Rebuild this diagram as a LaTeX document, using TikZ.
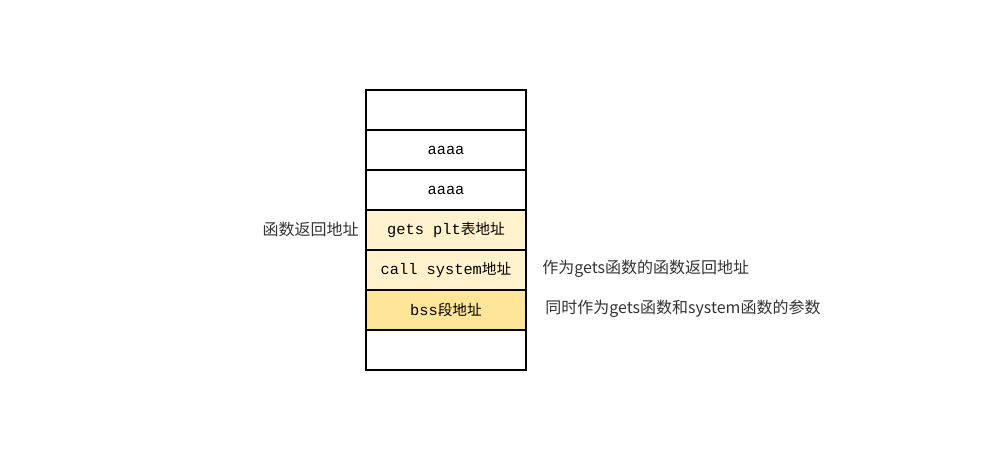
\documentclass[tikz,border=0pt]{standalone}
\usepackage{fontspec}
\setmainfont{Liberation Sans}
\newfontfamily\cjk{Noto Sans CJK SC}
\newfontfamily\monofnt{Liberation Mono}
\newcommand{\celltxt}[2]{{\monofnt\fontsize{11.5}{14}\selectfont #1}{\cjk\fontsize{11}{13}\selectfont #2}}
\definecolor{lightyel}{HTML}{FFF2CC}
\definecolor{darkyel}{HTML}{FFE599}
\definecolor{labgray}{HTML}{333333}
\tikzset{
  cellbox/.style={draw=black, line width=1.1pt, minimum width=120pt, minimum height=30pt, inner sep=0pt, anchor=center, text=black},
  sidelabel/.style={inner sep=0pt, text=labgray, font=\cjk\fontsize{12}{14}\selectfont}
}
\begin{document}
\begin{tikzpicture}[x=0.75pt,y=-0.75pt]
\useasboundingbox[fill=white] (0,0) rectangle (1000,460);
\node[cellbox, fill=white] (c1) at (446,110) {};
\node[cellbox, fill=white] (c2) at (446,150) {\celltxt{aaaa}{}};
\node[cellbox, fill=white] (c3) at (446,190) {\celltxt{aaaa}{}};
\node[cellbox, fill=lightyel] (c4) at (446,230) {\celltxt{gets plt}{表地址}};
\node[cellbox, fill=lightyel] (c5) at (446,270) {\celltxt{call system}{地址}};
\node[cellbox, fill=darkyel] (c6) at (446,310) {\celltxt{bss}{段地址}};
\node[cellbox, fill=white] (c7) at (446,350) {};
\node[sidelabel] (l1) at (310.5,229) {函数返回地址};
\node[sidelabel, anchor=west] (r1) at (542,269) {作为gets函数的函数返回地址};
\node[sidelabel, anchor=west] (r2) at (545,309) {同时作为gets函数和system函数的参数};
\end{tikzpicture}
\end{document}
